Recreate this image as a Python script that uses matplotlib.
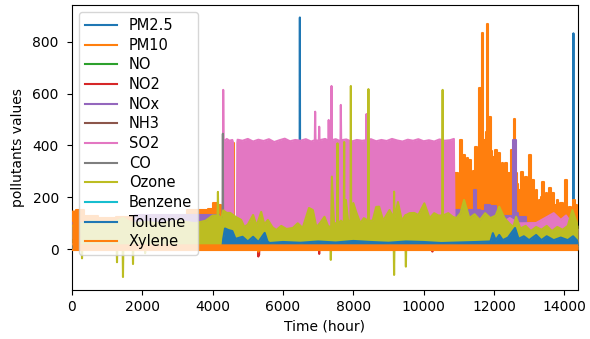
import matplotlib
matplotlib.use('Agg')
import matplotlib.pyplot as plt

# ---- data (hour, upper value, lower value) ----
labels = ['PM2.5', 'PM10', 'NO', 'NO2', 'NOx', 'NH3', 'SO2', 'CO',
          'Ozone', 'Benzene', 'Toluene', 'Xylene']

pm25_h = [0, 6470, 6480, 6490, 14250, 14260, 14270, 14390]
pm25_hi = [60, 60, 893, 60, 60, 832, 60, 60]
pm25_lo = 5

pm10_h = [0, 200, 500, 1000, 1500, 2000, 2500, 3000, 3560, 3800, 3950, 4070, 4200,
          4300, 4570, 4580, 4600, 4610, 4700, 10870, 10930, 11000, 11060, 11100,
          11150, 11200, 11240, 11280, 11320, 11390, 11440, 11480, 11540, 11600,
          11640, 11680, 11720, 11750, 11790, 11820, 11850, 11890, 11930, 11970,
          12020, 12060, 12100, 12150, 12200, 12240, 12290, 12340, 12390, 12430,
          12470, 12500, 12540, 12580, 12630, 12670, 12710, 12760, 12800, 12850,
          12900, 12960, 13020, 13060, 13110, 13160, 13210, 13250, 13300, 13350,
          13400, 13450, 13490, 13540, 13590, 13640, 13680, 13750, 13810, 13860,
          13920, 13990, 14060, 14100, 14160, 14220, 14280, 14330, 14390]
pm10_hi = [145, 150, 130, 120, 125, 120, 130, 125, 150, 150, 155, 178, 170,
           150, 150, 410, 410, 100, 100, 100, 293, 250, 421, 300,
           363, 280, 350, 260, 344, 190, 300, 395, 330, 620,
           400, 832, 420, 383, 450, 868, 450, 511, 380, 357,
           300, 383, 320, 370, 300, 332, 280, 332, 250, 293,
           260, 383, 350, 501, 293, 250, 228, 200, 299, 230,
           280, 220, 363, 240, 267, 200, 228, 180, 190, 200,
           261, 190, 216, 180, 235, 190, 216, 170, 190, 160,
           177, 150, 267, 160, 164, 140, 190, 170, 150]
pm10_lo = 20

no_h = [0, 4300, 10900, 14390]
no_hi = [50, 45, 50, 40]
no_lo = 0

no2_h = [0, 5290, 5300, 5310, 5320, 5330, 7020, 7030, 7040, 10240, 10250, 10260, 14390]
no2_hi = [40, 40, 40, 40, 40, 40, 40, 40, 40, 40, 40, 40, 40]
no2_lo = [2, 2, -28, 2, -22, 2, 2, -18, 2, 2, -9, 2, 2]

nox_h = [0, 3560, 4050, 4300, 10870, 10930, 11200, 11400, 11480, 11520, 11700,
         11800, 12000, 12100, 12540, 12560, 12620, 12640, 12700, 13100, 13500, 14390]
nox_hi = [100, 132, 132, 100, 100, 151, 140, 151, 228, 150, 148,
          170, 165, 130, 130, 421, 421, 140, 125, 100, 90, 86]
nox_lo = 15

nh3_h = [0, 14390]
nh3_hi = [35, 35]
nh3_lo = 0

so2_h = [0, 4290, 4300, 4310, 4330, 4400, 4480, 4560, 4580, 4590, 4690, 4700,
         4710, 4850, 5000, 5150, 5300, 5450, 5600, 5750, 5900, 6050, 6200, 6350,
         6500, 6650, 6800, 6905, 6915, 6925, 7020, 7030, 7040, 7200, 7290, 7300,
         7310, 7370, 7380, 7390, 7500, 7635, 7645, 7655, 7800, 7950, 8100, 8250,
         8365, 8375, 8385, 8500, 8650, 8800, 8950, 9100, 9250, 9400, 9550, 9700,
         9850, 10000, 10150, 10300, 10450, 10600, 10750, 10860, 10880, 11500,
         12100, 12450, 12700, 13200, 13700, 13900, 14050, 14200, 14390]
so2_hi = [20, 20, 614, 421, 415, 425, 418, 421, 410, 60, 60, 410,
          422, 418, 425, 415, 422, 417, 424, 413, 420, 426, 416, 421,
          418, 424, 415, 420, 530, 420, 418, 472, 420, 425, 418, 498,
          421, 418, 629, 420, 424, 416, 556, 420, 423, 415, 421, 418,
          420, 521, 418, 424, 416, 421, 417, 425, 419, 415, 422, 418,
          424, 416, 420, 415, 423, 418, 420, 425, 90, 80,
          90, 120, 100, 101, 139, 113, 130, 100, 80]
so2_lo = 20

co_h = [0, 4280, 4290, 4300, 14390]
co_hi = [5, 5, 445, 5, 5]
co_lo = 0

ozone_h = [0, 275, 285, 295, 600, 900, 1270, 1280, 1290, 1440, 1450, 1460, 1725,
           1735, 1745, 2070, 2080, 2090, 2500, 3000, 3500, 3800, 4000, 4140, 4150,
           4160, 4250, 4300, 4400, 4500, 4650, 4810, 4900, 5000, 5150, 5250, 5380,
           5470, 5570, 5700, 5810, 5950, 6100, 6280, 6420, 6560, 6740, 6850, 6950,
           7050, 7180, 7280, 7350, 7360, 7370, 7390, 7450, 7540, 7550, 7560, 7650,
           7730, 7740, 7750, 7790, 7850, 7920, 7930, 7940, 8000, 8080, 8200, 8300,
           8420, 8430, 8440, 8550, 8650, 8735, 8850, 9030, 9150, 9160, 9170, 9270,
           9380, 9485, 9495, 9505, 9600, 9730, 9850, 10020, 10170, 10300, 10420,
           10530, 10540, 10550, 10700, 10830, 10930, 11050, 11150, 11300, 11450,
           11600, 11750, 11900, 12050, 12150, 12300, 12430, 12550, 12630, 12750,
           12900, 13050, 13200, 13350, 13500, 13650, 13800, 13950, 14100, 14230,
           14390]
ozone_hi = [90, 100, 100, 100, 110, 95, 110, 110, 110, 120, 120, 120, 100,
            100, 100, 105, 105, 105, 100, 110, 100, 110, 130, 130, 221,
            130, 120, 150, 140, 140, 125, 113, 86, 95, 132, 90, 144,
            95, 113, 85, 74, 90, 78, 82, 100, 82, 159, 151, 85,
            100, 125, 90, 85, 85, 85, 280, 100, 100, 408, 100, 110,
            100, 413, 100, 190, 110, 110, 629, 110, 178, 144, 100, 120,
            110, 617, 110, 110, 163, 164, 110, 151, 120, 222, 120, 182,
            110, 132, 132, 132, 139, 140, 132, 177, 120, 139, 130,
            130, 614, 130, 139, 125, 120, 139, 190, 120, 135,
            113, 139, 120, 130, 164, 120, 100, 86, 125, 80,
            90, 70, 86, 75, 90, 70, 86, 75, 90, 151,
            90]
ozone_lo = [10, 10, -35, 10, 10, 10, 10, -50, 10, 10, -107, 10, 10,
            -57, 10, 10, -15, 10, 10, 10, 10, 10, 10, 10, 10,
            10, 10, 10, 10, 10, 10, 10, 10, 10, 10, 10, 10,
            10, 10, 10, 10, 10, 10, 10, 10, 10, 10, 10, 10,
            10, 10, 10, 10, -41, 10, 10, 10, 10, 10, 10, 10,
            10, 10, 10, 10, 10, 10, 10, 10, 10, 10, 10, 10,
            10, 10, 10, 10, 10, 10, 10, 10, 10, -99, 10, 10,
            10, 10, -67, 10, 10, 10, 10, 10, 10, 10, 10,
            10, 10, 10, 10, 10, 10, 10, 10, 10, 10,
            10, 10, 10, 10, 10, 10, 10, 10, 10, 10,
            10, 10, 10, 10, 10, 10, 10, 10, 10, 10,
            10]

benzene_h = [0, 14390]
benzene_hi = [10, 10]
benzene_lo = 0

toluene_h = [0, 4280, 4300, 4350, 4450, 4560, 4650, 4850, 5000, 5150, 5300, 5480,
             5560, 5620, 6000, 6500, 7000, 7500, 8000, 8500, 9000, 9500, 10000,
             10500, 11000, 11500, 11900, 11970, 12050, 12150, 12250, 12400, 12600,
             12700, 12850, 13000, 13200, 13350, 13500, 13700, 13900, 14100, 14250,
             14390]
toluene_hi = [10, 10, 40, 80, 74, 70, 40, 48, 30, 48, 28, 63,
              30, 24, 28, 25, 30, 26, 32, 28, 25, 30, 28,
              24, 26, 28, 30, 62, 35, 55, 35, 45, 82,
              40, 50, 35, 55, 35, 50, 35, 45, 35, 50,
              30]
toluene_lo = 3

xylene_h = [0, 180, 220, 5290, 5300, 5310, 14390]
xylene_hi = [145, 145, 15, 15, 15, 15, 15]
xylene_lo = [-3, -3, -3, -3, -10, -3, -3]

hours = [pm25_h, pm10_h, no_h, no2_h, nox_h, nh3_h, so2_h, co_h,
         ozone_h, benzene_h, toluene_h, xylene_h]
highs = [pm25_hi, pm10_hi, no_hi, no2_hi, nox_hi, nh3_hi, so2_hi, co_hi,
         ozone_hi, benzene_hi, toluene_hi, xylene_hi]
lows = [pm25_lo, pm10_lo, no_lo, no2_lo, nox_lo, nh3_lo, so2_lo, co_lo,
        ozone_lo, benzene_lo, toluene_lo, xylene_lo]

colors = ['C0', 'C1', 'C2', 'C3', 'C4', 'C5', 'C6', 'C7', 'C8', 'C9', 'C0', 'C1']
# PM10 and NOx look like blocky bars in the original
stepped = ['PM10', 'NOx']

fig = plt.figure(figsize=(5.9, 3.39), dpi=100)
ax = fig.add_axes([72 / 590, 49 / 339, 506 / 590, 285 / 339])

for i in range(len(labels)):
    z = 2 + i
    ds = 'steps-mid' if labels[i] in stepped else 'default'
    st = 'mid' if labels[i] in stepped else None
    ax.fill_between(hours[i], lows[i], highs[i], color=colors[i], lw=0, zorder=z, step=st)
    ax.plot(hours[i], highs[i], color=colors[i], lw=1.5, label=labels[i], zorder=z,
            drawstyle=ds)
    if isinstance(lows[i], list):
        ax.plot(hours[i], lows[i], color=colors[i], lw=1.5, zorder=z)

ax.set_xlim(0, 14390)
ax.set_ylim(-157, 941)
ax.tick_params(axis='y', pad=6)
ax.set_xlabel('Time (hour)')
ax.set_ylabel('pollutants values', labelpad=5)
leg = ax.legend(loc='upper left', fontsize=10.5, labelspacing=0.32, handlelength=2.2)
leg.set_zorder(20)

fig.savefig('out.png', dpi=100)
